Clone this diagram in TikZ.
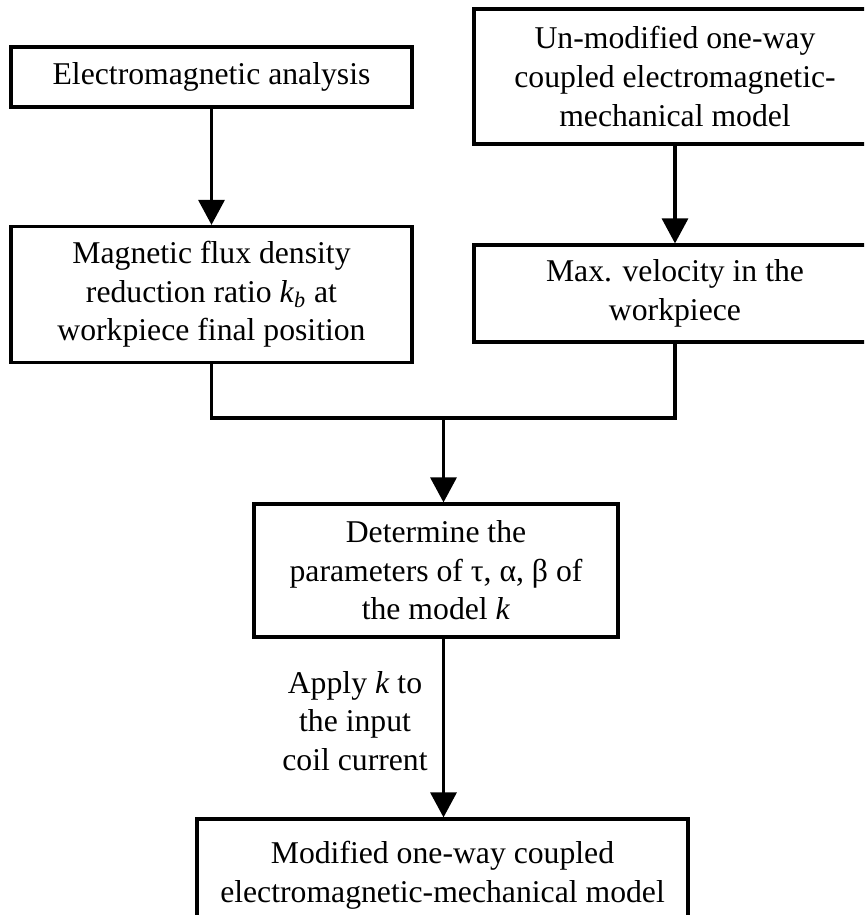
\documentclass[tikz,border=0pt]{standalone}
\usepackage{fontspec}
\setmainfont{Liberation Serif}
\usetikzlibrary{arrows.meta}
\tikzset{
  box/.style={draw, line width=1.6pt, inner sep=0pt, align=center, font=\fontsize{15.85pt}{19.3pt}\selectfont},
  lbl/.style={inner sep=0pt, align=center, font=\fontsize{15.85pt}{19.3pt}\selectfont},
  conn/.style={line width=1.6pt, line join=miter},
  arr/.style={conn, -{Triangle[length=12.5pt, width=13pt]}}
}
\begin{document}
\begin{tikzpicture}[x=0.5pt, y=-0.5pt]
\path[use as bounding box, clip] (0,0) rectangle (864,915);
\fill[white] (0,0) rectangle (864,915);

\node[box, minimum width=200.5pt, minimum height=30pt] (ea) at (211.5,77) {Electromagnetic analysis};
\node[box, minimum width=200.5pt, minimum height=68pt] (mfd) at (211.5,294.5) {Magnetic flux density\\reduction ratio \textit{k}\textsubscript{\textit{b}} at\\workpiece final position};
\node[box, minimum width=201pt, minimum height=67.5pt] (um) at (675,76.5) {Un-modified one-way\\coupled electromagnetic-\\mechanical model};
\node[box, minimum width=201pt, minimum height=48.5pt] (mv) at (675,293.5) {Max. velocity in the\\workpiece};
\node[box, minimum width=182pt, minimum height=66.5pt] (det) at (436,570.5) {Determine the\\parameters of τ, α, β of\\the model \textit{k}};
\node[box, minimum width=245.5pt, minimum height=56pt] (bot) at (442.5,875) {Modified one-way coupled\\electromagnetic-mechanical model};
\node[lbl] (apply) at (355,721) {Apply \textit{k} to\\the input\\coil current};

\coordinate (jl) at (211.5,418);
\coordinate (jr) at (675,418);
\coordinate (jm) at (443.5,418);

\draw[arr] (ea) -- (mfd);
\draw[arr] (um) -- (mv);
\draw[conn] (mfd.south) -- (jl) -- (jr) -- (mv.south);
\draw[arr] (jm) -- (det.north -| jm);
\draw[arr] (det.south -| jm) -- (bot.north -| jm);
\end{tikzpicture}
\end{document}
